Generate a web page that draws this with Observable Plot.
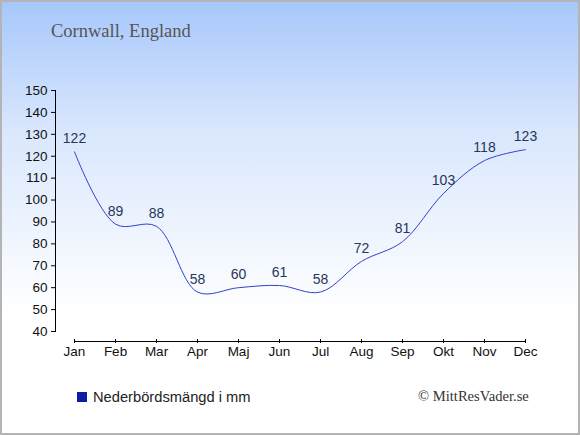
<!DOCTYPE html>
<html>
<head>
<meta charset="utf-8">
<script src="https://cdn.jsdelivr.net/npm/d3@7"></script>
<script src="https://cdn.jsdelivr.net/npm/@observablehq/plot@0.6"></script>
<style>
  html, body { margin: 0; padding: 0; background: #fff; }
  #wrap {
    position: relative; width: 580px; height: 435px; overflow: hidden;
    background: linear-gradient(to bottom, #a6c7fb 0%, #d9e7fd 30%, #ffffff 72%, #ffffff 100%);
    box-shadow: inset 0 0 0 2px #b4b4b4;
  }
  #wrap svg { position: absolute; left: 0; top: 0; background: transparent; }
  .title { position: absolute; left: 51px; top: 21px; font-family: "Liberation Serif", serif; font-size: 18.5px; color: #555; }
  .legend { position: absolute; left: 77px; top: 389px; font-family: "Liberation Sans", Arial, sans-serif; font-size: 14.7px; color: #222; display: flex; align-items: center; }
  .legend span.sw { display: inline-block; width: 10px; height: 10px; background: #0b1ca8; margin-right: 6px; }
  .copy { position: absolute; left: 418px; top: 388px; font-family: "Liberation Serif", serif; font-size: 14.6px; color: #333; }
</style>
</head>
<body>
<div id="wrap">
  <div class="title">Cornwall, England</div>
  <div class="legend"><span class="sw"></span>Nederbördsmängd i mm</div>
  <div class="copy">© MittResVader.se</div>
</div>
<script>
const months = ["Jan","Feb","Mar","Apr","Maj","Jun","Jul","Aug","Sep","Okt","Nov","Dec"];
const rainfall = [122, 89, 88, 58, 60, 61, 58, 72, 81, 103, 118, 123];
const yTicks = [40, 50, 60, 70, 80, 90, 100, 110, 120, 130, 140, 150];

const data = months.map((m, i) => ({month: m, value: rainfall[i]}));

const chart = Plot.plot({
  width: 580,
  height: 435,
  marginTop: 90,
  marginBottom: 104,
  marginLeft: 55,
  marginRight: 55,
  style: {background: "transparent", fontFamily: "Liberation Sans, Arial, sans-serif", overflow: "visible"},
  x: {type: "point", domain: months, range: [74, 525], padding: 0, label: null},
  y: {domain: [40, 150], label: null},
  marks: [
    Plot.frame({anchor: "left", stroke: "#000", strokeWidth: 1}),
    Plot.axisY({ticks: yTicks, tickSize: 4, tickPadding: 4, fontSize: 13.5, fill: "#111", label: null, stroke: "#000", strokeOpacity: 1}),
    Plot.ruleY([40], {x1: () => months[0], x2: () => months[months.length - 1], dy: 10, stroke: "#000"}),
    Plot.axisX({tickSize: 4, dy: 8, tickPadding: 3, fontSize: 13.5, fill: "#111", label: null, stroke: "#000", strokeOpacity: 1}),
    Plot.line(data, {x: "month", y: "value", curve: "catmull-rom", stroke: "#3041cf", strokeWidth: 1}),
    Plot.text(data, {x: "month", y: "value", text: d => String(d.value), dy: -13, fontSize: 14, fill: "#26365c"})
  ]
});
document.getElementById("wrap").appendChild(chart);
</script>
</body>
</html>
